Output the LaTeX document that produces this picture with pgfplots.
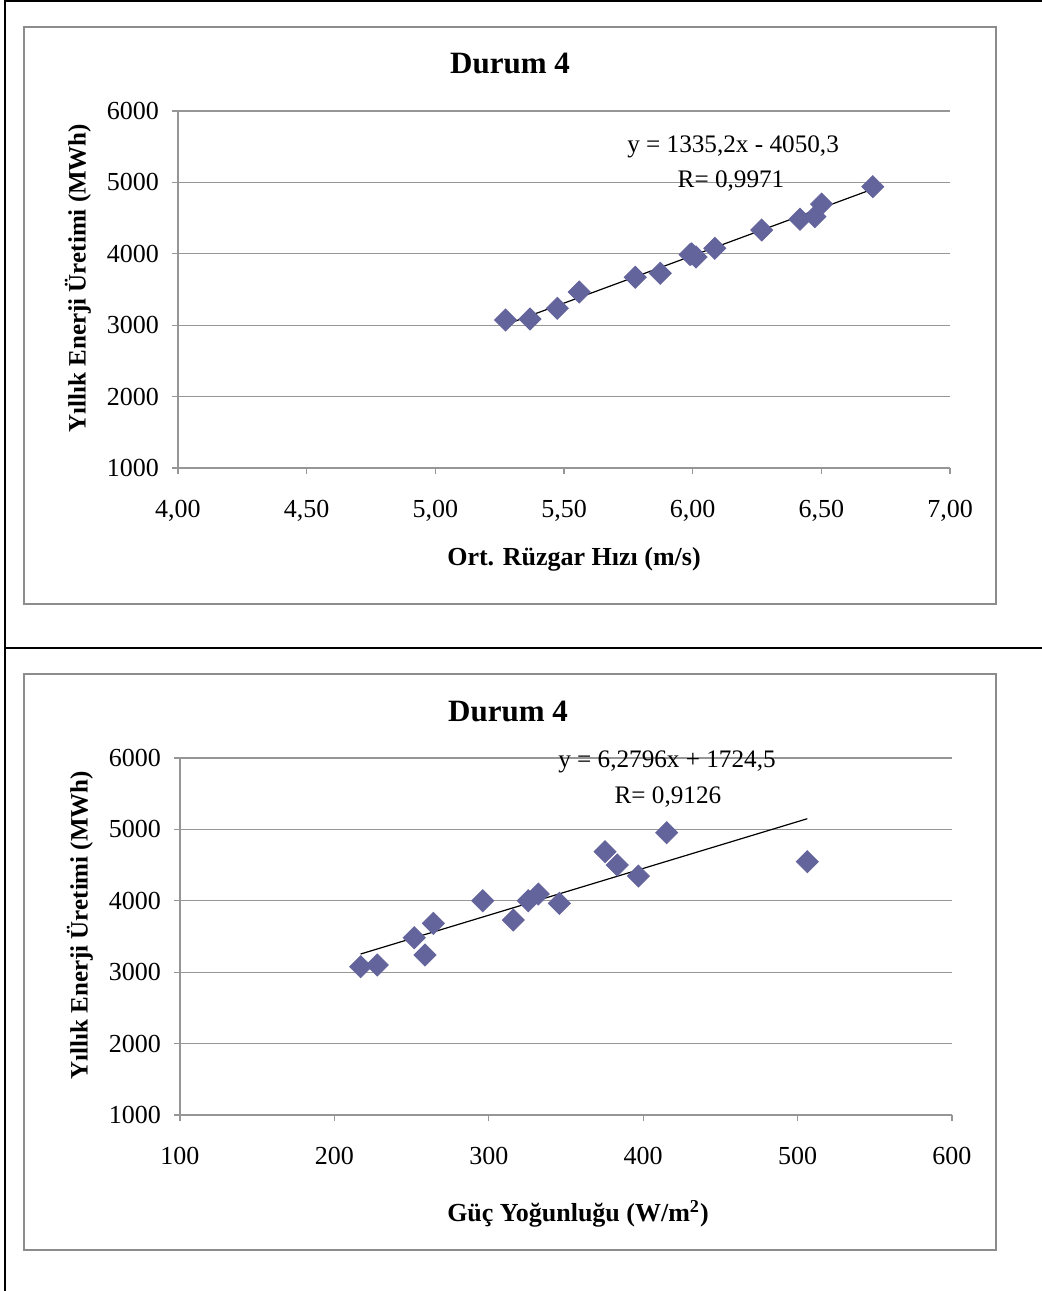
\documentclass[border=0pt]{standalone}
\usepackage{pgfplots}
\pgfplotsset{compat=1.18}
\usepackage{fontspec}
\setmainfont{Liberation Serif}
\definecolor{mk}{RGB}{100,100,156}
\definecolor{gl}{RGB}{150,150,150}
\definecolor{bx}{RGB}{140,140,140}
\pgfplotsset{
  durum/.style={
    scale only axis, width=386pt, height=178.5pt,
    anchor=south west, clip=false,
    axis lines*=left, axis line style={-, gl, line width=0.6pt},
    tick align=outside, major tick length=3pt,
    tick style={gl, line width=0.6pt},
    ymin=1000, ymax=6000, ytick={1000,2000,3000,4000,5000,6000},
    yticklabels={1000,2000,3000,4000,5000,6000},
    ymajorgrids, grid style={gl, line width=0.6pt},
    ticklabel style={font=\fontsize{13}{15}\selectfont},
    yticklabel style={xshift=-3pt},
    xticklabel style={yshift=-9.5pt},
    every axis y label/.style={at={(axis description cs:0,0.5)}, anchor=center,
      xshift=-50pt, yshift=5.7pt, rotate=90, font=\fontsize{12.5}{15}\selectfont\bfseries},
    every axis x label/.style={at={(axis description cs:0.5,0)}, anchor=base,
      font=\fontsize{13}{15}\selectfont\bfseries},
    title style={at={(axis description cs:0.5,1)}, anchor=center,
      font=\fontsize{15.5}{18}\selectfont\bfseries},
  }
}
\begin{document}
\begin{tikzpicture}
\useasboundingbox (0pt,0pt) rectangle (521pt,-645.5pt);
% outer frame
\draw[line width=1pt] (2.5pt,-0.5pt) -- (521pt,-0.5pt);
\draw[line width=1pt] (2.5pt,0pt) -- (2.5pt,-645.5pt);
\draw[line width=1pt] (2.5pt,-324pt) -- (521pt,-324pt);
% chart boxes
\draw[bx, line width=0.6pt] (12pt,-13.5pt) rectangle (498pt,-302pt);
\draw[bx, line width=0.6pt] (12pt,-337pt) rectangle (498pt,-625pt);

\begin{axis}[durum, at={(89pt,-234pt)},
  xmin=4, xmax=7, xtick={4,4.5,5,5.5,6,6.5,7},
  xticklabels={{4,00},{4,50},{5,00},{5,50},{6,00},{6,50},{7,00}},
  title={Durum 4}, title style={xshift=-27pt, yshift=18pt},
  xlabel={Ort. Rüzgar Hızı (m/s)}, xlabel style={yshift=-48.5pt, xshift=5pt},
  ylabel={Yıllık Enerji Üretimi (MWh)}]
\addplot[no marks, black, line width=0.6pt] coordinates {(5.27,3003) (6.70,4907)};
\addplot[only marks, mark=square*, mark size=3.9pt, mark options={rotate=45, fill=mk, draw=mk}]
 coordinates {
 (5.273,3073) (5.368,3087) (5.474,3237) (5.559,3465) (5.777,3671)
 (5.874,3727) (5.990,3990) (5.996,4000) (6.013,3955) (6.086,4077)
 (6.268,4333) (6.417,4483) (6.475,4520) (6.501,4697) (6.700,4940)};
\node[font=\fontsize{12.6}{15}\selectfont] at (axis cs:6.157,5496) {y = 1335,2x - 4050,3};
\node[font=\fontsize{12.6}{15}\selectfont] at (axis cs:6.149,5020) {R= 0,9971};
\end{axis}

\begin{axis}[durum, at={(90pt,-557.5pt)},
  xmin=100, xmax=600, xtick={100,200,300,400,500,600},
  xticklabels={100,200,300,400,500,600},
  title={Durum 4}, title style={xshift=-29pt, yshift=17.5pt},
  xlabel={Güç Yoğunluğu (W/m\textsuperscript{2})}, xlabel style={yshift=-53pt, xshift=6pt},
  ylabel={Yıllık Enerji Üretimi (MWh)}]
\addplot[no marks, black, line width=0.6pt] coordinates {(217,3255) (506.3,5150)};
\addplot[only marks, mark=square*, mark size=3.9pt, mark options={rotate=45, fill=mk, draw=mk}]
 coordinates {
 (217.0,3077) (227.8,3101) (251.7,3483) (258.7,3241) (264.1,3685)
 (296.1,4001) (315.9,3731) (325.6,4001) (332.1,4095) (345.7,3965)
 (375.3,4688) (383.2,4501) (396.9,4347) (415.2,4954) (506.3,4548)};
\node[font=\fontsize{12.6}{15}\selectfont] at (axis cs:415.4,5944) {y = 6,2796x + 1724,5};
\node[font=\fontsize{12.6}{15}\selectfont] at (axis cs:416,5454) {R= 0,9126};
\end{axis}
\end{tikzpicture}
\end{document}
